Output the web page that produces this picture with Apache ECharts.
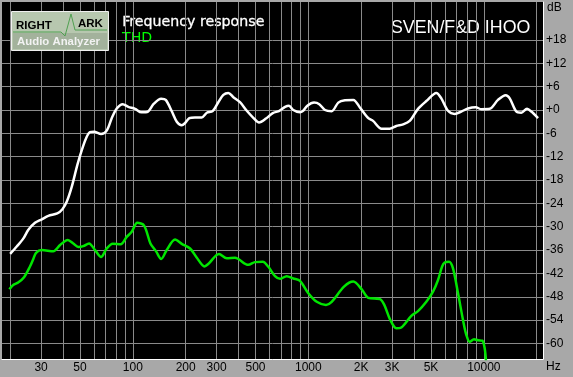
<!DOCTYPE html>
<html>
<head>
<meta charset="utf-8">
<script src="https://cdn.jsdelivr.net/npm/echarts@6/dist/echarts.min.js"></script>
<style>
  html, body { margin: 0; padding: 0; background: #a8a8a8; }
  #chart { width: 573px; height: 377px; }
</style>
</head>
<body>
<div id="chart"></div>
<script>
// tick values
const gridFreqs = [20, 30, 40, 50, 60, 70, 80, 90, 100, 200, 300, 400, 500, 600, 700, 800, 900,
  1000, 2000, 3000, 4000, 5000, 6000, 7000, 8000, 9000, 10000, 20000]
const freqLabels = [30, 50, 100, 200, 300, 500, 1000, 2000, 3000, 5000, 10000]
const dbTicks = [18, 12, 6, 0, -6, -12, -18, -24, -30, -36, -42, -48, -54, -60]

// Frequency response (white)
const respFreq = [20.0, 21.8, 23.8, 25.4, 27.7, 30.3, 33.0, 37.1, 39.7, 42.0, 44.9, 48.3, 51.2, 54.1, 57.0, 60.1,
  65.9, 71.0, 75.8, 81.0, 87.6, 94.3, 103, 112, 122, 131, 145, 154, 167, 178, 190, 198, 210, 226, 247, 264,
  285, 307, 328, 350, 374, 408, 446, 486, 524, 574, 627, 684, 737, 776, 821, 897, 929, 987, 1078, 1155, 1245,
  1359, 1482, 1618, 1805, 1971, 2197, 2337, 2613, 2910, 3173, 3464, 3782, 4218, 4703, 5363, 5725, 6252, 6825,
  7445, 8128, 8990, 9677, 10804, 12047, 13330, 14050, 15320, 16360, 17630, 18650, 20370]
const respDb = [-37.0, -35.1, -33.0, -30.8, -29.0, -28.1, -27.2, -26.6, -25.5, -23.6, -19.7, -14.1, -10.3, -7.3, -5.7, -5.6,
  -6.2, -5.3, -2.1, 0.4, 1.5, 0.8, 0.3, -0.6, -0.4, 1.5, 2.9, 2.6, -0.4, -3.0, -3.9, -3.4, -2.1, -1.9, -1.9, -0.7,
  -0.3, 2.0, 3.9, 4.4, 3.3, 2.0, -0.2, -2.0, -3.2, -2.2, -0.8, -0.2, 0.8, 1.1, 0, -0.6, -0.3, 1.1, 1.9, 1.5, 0,
  -0.3, 1.9, 2.5, 2.6, 0.6, -2.1, -2.8, -4.8, -4.8, -4.1, -3.7, -2.8, 0.3, 2.3, 4.4, 3.0, -0.2, -1.0,
  -0.4, 0.4, 0.7, 0.2, 0.3, 2.6, 3.8, 3.0, -0.4, -0.7, 0.3, -0.4, -2.1]

// THD (green)
const thdFreq = [19.8, 20.8, 22.3, 24.0, 25.9, 27.1, 28.1, 30.3, 35.2, 38.5, 42.6, 45.8, 48.9, 52.2, 56.3, 60.9,
  65.9, 71.0, 76.8, 85.3, 92.3, 98.6, 106, 116, 126, 136, 145, 156, 174, 190, 212, 231, 256, 269, 310, 343, 382,
  455, 497, 550, 592, 646, 690, 753, 821, 897, 1000, 1117, 1261, 1359, 1597, 1805, 2015, 2197, 2562, 2710, 2921,
  3173, 3388, 3863, 4218, 4703, 5134, 5483, 5779, 5987, 6336, 6674, 7129, 7613, 7949, 8312, 8795, 9268, 9806,
  10118, 10292]
const thdDb = [-46.1, -45.0, -44.3, -43.0, -40.3, -38.3, -36.7, -36.0, -36.3, -34.7, -33.4, -34.3, -35.2, -35.0, -34.3, -36.0,
  -37.8, -35.6, -34.4, -34.5, -32.6, -31.3, -29.0, -29.7, -34.3, -36.4, -38.3, -36.0, -33.3, -34.4, -35.6, -37.9, -40.2, -39.6, -37.0, -38.1, -38.0,
  -39.8, -39.1, -39.0, -40.3, -42.7, -43.4, -42.7, -43.3, -43.9, -47.1, -49.3, -50.1, -49.3, -45.4, -44.1, -46.1, -48.3, -48.6, -50.1, -53.8,
  -56.1, -55.9, -52.9, -51.7, -49.3, -46.7, -43.7, -40.3, -39.2, -39.0, -40.7, -47.1, -54.0, -57.8, -59.6, -58.9, -59.2, -59.3,
  -61.3, -64.5]

const gridColor = '#8a8a8a'
const labelFont = 'Liberation Sans'

const myChart = echarts.init(document.getElementById('chart'), null, { renderer: 'canvas' })

function fmtFreq(v) {
  v = Math.round(v)
  if (v === 2000 || v === 3000 || v === 5000) return v / 1000 + 'K'
  return String(v)
}

const option = {
  animation: false,
  backgroundColor: '#a8a8a8',
  grid: { show: true, left: 2, top: 2, width: 541, height: 357, backgroundColor: '#000', borderWidth: 0 },
  xAxis: {
    type: 'log',
    min: 17.97,
    max: 21740,
    axisLine: { show: true, onZero: false, lineStyle: { color: '#fff', width: 1 } },
    axisTick: { show: false, customValues: gridFreqs },
    axisLabel: { customValues: freqLabels, formatter: fmtFreq, color: '#000', fontSize: 12, fontFamily: labelFont, margin: 3 },
    splitLine: { show: true, lineStyle: { color: gridColor, width: 1 } },
    minorSplitLine: { show: false }
  },
  yAxis: {
    type: 'value',
    position: 'right',
    min: -64,
    max: 27.76,
    axisLine: { show: true, onZero: false, lineStyle: { color: '#fff', width: 1 } },
    axisTick: { show: false, customValues: dbTicks },
    axisLabel: {
      customValues: dbTicks,
      formatter: v => (v >= 0 ? '+' + v : String(v)),
      color: '#000', fontSize: 12, fontFamily: labelFont, margin: 3
    },
    splitLine: { show: true, lineStyle: { color: gridColor, width: 1 } }
  },
  series: [
    {
      name: 'Frequency response',
      type: 'line',
      smooth: 0.3,
      showSymbol: false,
      lineStyle: { color: '#fff', width: 2.5 },
      data: respFreq.map((f, i) => [f, respDb[i]])
    },
    {
      name: 'THD',
      type: 'line',
      smooth: 0.3,
      showSymbol: false,
      lineStyle: { color: '#00e600', width: 2.5 },
      data: thdFreq.map((f, i) => [f, thdDb[i]])
    }
  ],
  graphic: [
    { type: 'text', left: 122, top: 15, style: { text: 'Frequency response', fill: '#fff', stroke: '#fff', lineWidth: 0.3, font: '14.2px "DejaVu Sans"' } },
    { type: 'text', left: 122, top: 31, style: { text: 'THD', fill: '#00ff00', font: '14.2px "DejaVu Sans"' } },
    { type: 'text', left: 391, top: 19, style: { text: 'SVEN/F&D IHOO', fill: '#fff', font: '17.8px "Liberation Sans"' } },
    { type: 'text', left: 547, top: 2, style: { text: 'dB', fill: '#000', font: '12px "Liberation Sans"' } },
    { type: 'text', left: 546, top: 361, style: { text: 'Hz', fill: '#000', font: '12px "Liberation Sans"' } },
    // logo
    { type: 'rect', shape: { x: 11.5, y: 11.5, width: 97, height: 39 }, style: { fill: '#b7c7af', stroke: '#f0f0f0', lineWidth: 1 }, z: 20 },
    { type: 'rect', shape: { x: 13, y: 33, width: 94, height: 16 }, style: { fill: '#a3b29c' }, z: 21 },
    { type: 'polyline', shape: { points: [[13, 32], [61, 32], [65, 36], [71, 14], [75, 30], [77, 30], [107, 30]] }, style: { stroke: '#4fa050', fill: null, lineWidth: 1 }, z: 22 },
    { type: 'text', left: 16, top: 20, z: 23, style: { text: 'RIGHT', fill: '#000', font: 'bold 11.5px "Liberation Sans"' } },
    { type: 'text', left: 78, top: 18, z: 23, style: { text: 'ARK', fill: '#000', font: 'bold 11.5px "Liberation Sans"' } },
    { type: 'text', left: 17, top: 36, z: 23, style: { text: 'Audio Analyzer', fill: '#f2f2f2', font: 'bold 11.4px "Liberation Sans"' } }
  ]
}
myChart.setOption(option)
</script>
</body>
</html>
